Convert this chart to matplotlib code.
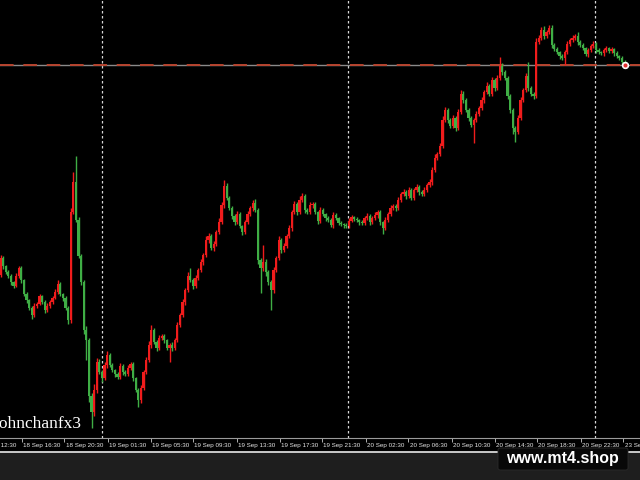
import matplotlib
matplotlib.use('Agg')
import matplotlib.pyplot as plt
import matplotlib.transforms as mtransforms
from matplotlib.patches import Rectangle, FancyBboxPatch
from matplotlib.lines import Line2D
import numpy as np

# 15 min bars, price in chart units (higher = up)
first_open = 165
closes = [
    182, 174, 168, 164, 158, 154, 164, 172, 160, 146,
    140, 132, 125, 134, 136, 144, 138, 130, 134, 138,
    142, 148, 156, 146, 142, 132, 120, 228, 258, 220,
    184, 158, 110, 100, 44, 28, 50, 78, 68, 62,
    75, 85, 75, 70, 66, 63, 74, 68, 66, 72,
    76, 62, 50, 40, 52, 68, 80, 95, 110, 98,
    92, 102, 104, 100, 92, 95, 92, 100, 115, 125,
    138, 150, 164, 160, 154, 162, 170, 178, 185, 200,
    204, 192, 196, 208, 218, 235, 254, 242, 232, 224,
    218, 226, 214, 208, 218, 226, 232, 237, 230, 180,
    172, 178, 168, 158, 150, 170, 182, 200, 190, 194,
    204, 212, 228, 236, 228, 240, 244, 230, 228, 235,
    236, 228, 219, 230, 226, 222, 220, 215, 225, 222,
    217, 216, 215, 214, 219, 223, 221, 220, 218, 217,
    222, 224, 218, 222, 225, 228, 218, 212, 220, 226,
    232, 234, 232, 240, 246, 248, 244, 250, 242, 250,
    253, 248, 246, 250, 255, 258, 270, 282, 286, 294,
    320, 330, 320, 314, 322, 312, 328, 346, 340, 330,
    322, 315, 320, 326, 332, 340, 348, 354, 346, 360,
    352, 362, 374, 368, 362, 344, 330, 312, 308, 322,
    340, 350, 364, 352, 346, 344, 398, 402, 410, 404,
    408, 412, 395, 391, 388, 384, 382, 388, 396, 400,
    402, 404, 398, 395, 392, 386, 390, 394, 396, 390,
    388, 387, 390, 392, 389, 391, 387, 384, 382, 378, 375,
]
wick_hi = [
    3, 2, 1, 2, 2, 1, 3, 2, 2, 1,
    2, 1, 2, 3, 2, 2, 1, 2, 3, 2,
    2, 3, 4, 2, 1, 2, 2, 4, 10, 26,
    3, 2, 2, 4, 2, 3, 6, 4, 3, 2,
    3, 4, 2, 2, 1, 2, 3, 2, 2, 3,
    2, 2, 1, 2, 3, 2, 3, 4, 5, 2,
    2, 3, 2, 2, 1, 2, 3, 2, 3, 2,
    3, 2, 4, 8, 2, 3, 2, 3, 2, 4,
    3, 2, 3, 2, 4, 3, 6, 3, 2, 2,
    2, 3, 2, 1, 2, 3, 2, 3, 4, 2,
    2, 17, 3, 2, 2, 3, 2, 4, 2, 3,
    2, 3, 2, 3, 2, 4, 3, 2, 2, 3,
    2, 2, 1, 3, 2, 1, 2, 2, 3, 2,
    1, 2, 1, 2, 3, 2, 1, 2, 1, 2,
    2, 3, 2, 2, 3, 2, 2, 1, 3, 2,
    3, 2, 2, 3, 2, 3, 2, 3, 2, 2,
    3, 2, 2, 3, 2, 3, 3, 4, 2, 3,
    4, 3, 2, 2, 3, 2, 3, 4, 3, 2,
    2, 2, 2, 3, 2, 3, 2, 4, 2, 3,
    2, 3, 9, 3, 2, 2, 2, 2, 2, 3,
    3, 2, 3, 14, 2, 2, 4, 3, 3, 4,
    2, 3, 3, 2, 2, 1, 2, 2, 3, 2,
    3, 2, 4, 2, 2, 1, 2, 2, 3, 2,
    2, 1, 2, 2, 1, 2, 1, 2, 1, 2, 2,
]
wick_lo = [
    2, 3, 2, 2, 3, 2, 1, 2, 3, 2,
    3, 2, 4, 2, 2, 1, 2, 3, 2, 2,
    2, 1, 2, 2, 3, 2, 4, 3, 2, 2,
    2, 3, 4, 20, 6, 16, 4, 3, 2, 4,
    2, 3, 2, 2, 3, 2, 2, 3, 2, 2,
    2, 3, 2, 7, 3, 2, 2, 2, 3, 2,
    3, 2, 2, 3, 2, 14, 3, 2, 2, 2,
    2, 3, 2, 2, 3, 2, 2, 2, 3, 2,
    3, 2, 3, 2, 2, 2, 3, 2, 2, 3,
    3, 2, 2, 3, 2, 2, 2, 3, 2, 4,
    25, 3, 4, 3, 20, 3, 2, 2, 3, 2,
    2, 2, 3, 2, 3, 2, 2, 3, 2, 2,
    3, 2, 3, 2, 2, 3, 2, 2, 3, 2,
    2, 2, 3, 2, 2, 1, 2, 2, 3, 2,
    2, 2, 3, 2, 2, 3, 3, 6, 2, 2,
    2, 2, 3, 2, 2, 2, 3, 2, 2, 2,
    2, 3, 2, 2, 2, 2, 3, 2, 2, 2,
    2, 2, 3, 2, 2, 3, 2, 2, 3, 2,
    3, 2, 18, 2, 2, 2, 3, 2, 2, 2,
    3, 2, 2, 3, 2, 3, 3, 6, 10, 2,
    2, 2, 2, 3, 2, 3, 2, 2, 2, 3,
    2, 2, 3, 2, 2, 3, 2, 7, 2, 2,
    2, 2, 3, 2, 2, 2, 3, 2, 2, 3,
    2, 2, 3, 2, 2, 2, 3, 2, 2, 3, 2,
]

tick_pos = [-8.5, 8.1, 24.6, 41.2, 57.7, 74.2, 90.8, 107.3, 123.8,
            140.4, 156.9, 173.5, 190.0, 206.5, 223.1, 239.6]
tick_labels = ["18 Sep 12:30", "18 Sep 16:30", "18 Sep 20:30", "19 Sep 01:30",
               "19 Sep 05:30", "19 Sep 09:30", "19 Sep 13:30", "19 Sep 17:30",
               "19 Sep 21:30", "20 Sep 02:30", "20 Sep 06:30", "20 Sep 10:30",
               "20 Sep 14:30", "20 Sep 18:30", "20 Sep 22:30", "23 Sep 02:30"]
day_breaks = [39.2, 133.8, 228.5]

RED = '#f01c1c'
GREEN = '#3fae45'

opens = np.array([first_open] + closes[:-1], dtype=float)
c = np.array(closes, dtype=float)
idx = np.arange(len(c))
top = np.maximum(opens, c)
bot = np.minimum(opens, c)
highs = top + np.array(wick_hi)
lows = bot - np.array(wick_lo)
cols = np.where(c > opens, RED, GREEN)

fig = plt.figure(figsize=(6.4, 4.8), dpi=100, facecolor='black')
# dark strip under the time scale
fig.patches.append(Rectangle((0, 0), 1, 28 / 480, transform=fig.transFigure,
                             facecolor='#1e1e1e', edgecolor='none', zorder=-10))
fig.lines.append(Line2D([0, 1], [28.5 / 480, 28.5 / 480], transform=fig.transFigure,
                        color='#d8d8d8', lw=1.3, zorder=-5))

ax = fig.add_axes([0, 42 / 480, 1, 438 / 480])
ax.set_facecolor('black')

ax.vlines(idx, lows, highs, colors=cols, lw=1.0, zorder=3)
ax.bar(idx, np.maximum(top - bot, 0.8), bottom=bot, width=0.9, color=cols,
       linewidth=0, zorder=4)

for d in day_breaks:
    ax.axvline(d, color='#d8d8d8', lw=0.9, linestyle=(0, (2, 2)), zorder=2)

# bid line
ax.axhline(c[-1], color='#8a8a8a', lw=1.0, zorder=2)
ax.axhline(c[-1], color='#b8452f', lw=1.4, linestyle=(0, (7, 5)), zorder=2)
ax.plot(idx[-1], c[-1], 'o', ms=4.5, mfc='#ffdddd', mec='white', mew=0.8, zorder=6)
ax.plot(idx[-1], c[-1], 'o', ms=1.8, color='#e03030', zorder=7)

ax.set_yticks([])
for s in ['top', 'left', 'right']:
    ax.spines[s].set_visible(False)
ax.spines['bottom'].set_color('#9a9a9a')
ax.spines['bottom'].set_linewidth(0.8)
ax.set_xticks(tick_pos)
ax.set_xticklabels([])
ax.tick_params(axis='x', direction='out', length=3, width=0.7, color='#b0b0b0')
ax.set_xlim(-0.2, 640 / 2.6 - 0.2)
ax.set_ylim(2, 440)

trans = mtransforms.blended_transform_factory(ax.transData, ax.transAxes)
for p, lab in zip(tick_pos, tick_labels):
    ax.text(p + 0.4, -0.0165, lab, transform=trans, ha='left', va='center',
            fontsize=4.5, color='#e6e6e6', family='Liberation Sans', clip_on=False)

fig.text(82 / 640, 52 / 480, 'johnchanfx3', ha='right', va='baseline',
         fontsize=12.5, color='white', family='Liberation Serif')

box = FancyBboxPatch((498 / 640, 10 / 480), 130 / 640, 22 / 480,
                     boxstyle='round,pad=0,rounding_size=0.004',
                     transform=fig.transFigure, facecolor='#080808',
                     edgecolor='#2a2a2a', lw=0.6)
fig.patches.append(box)
fig.text(562 / 640, 21 / 480, 'www.mt4.shop', ha='center', va='center',
         fontsize=11.5, fontweight='bold', color='white', family='Liberation Sans')

plt.savefig('out.png', dpi=100, facecolor=fig.get_facecolor())
